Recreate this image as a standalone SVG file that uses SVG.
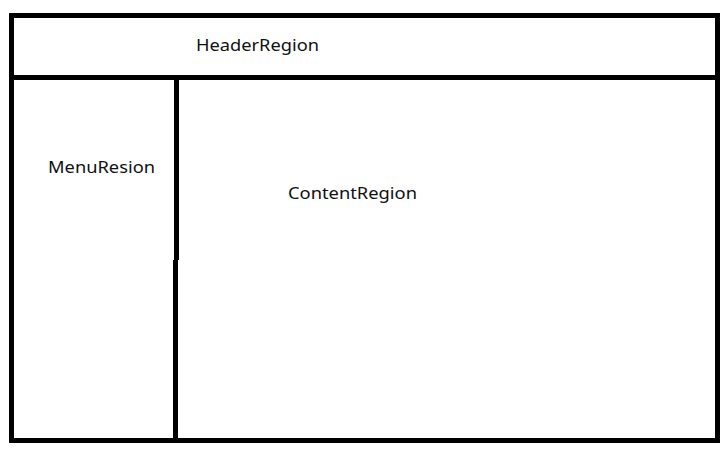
<svg xmlns="http://www.w3.org/2000/svg" width="728" height="451" viewBox="0 0 728 451">
<style>
.ln{stroke:#000;stroke-width:5;fill:none}
.t{font-family:"Noto Sans","Liberation Sans",sans-serif;font-size:17px;fill:#111}
</style>
<rect width="728" height="451" fill="#fff"/>
<g id="frame"><rect class="ln" x="11.5" y="15.5" width="706" height="425"/></g>
<g id="connectors">
<line class="ln" x1="11.5" y1="77.5" x2="717.5" y2="77.5"/>
<line class="ln" x1="176.5" y1="80" x2="176.5" y2="260"/>
<line class="ln" x1="175.5" y1="260" x2="175.5" y2="440"/>
</g>
<g id="header"><text class="t" x="196" y="51" textLength="123" lengthAdjust="spacingAndGlyphs">HeaderRegion</text></g>
<g id="menu"><text class="t" x="48" y="173" textLength="107" lengthAdjust="spacingAndGlyphs">MenuResion</text></g>
<g id="content"><text class="t" x="288" y="199" textLength="129" lengthAdjust="spacingAndGlyphs">ContentRegion</text></g>
</svg>
